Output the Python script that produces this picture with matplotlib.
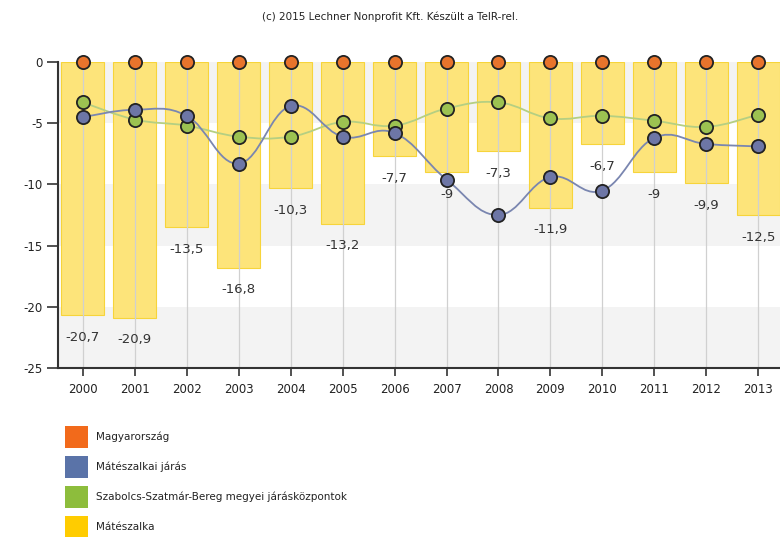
import matplotlib.pyplot as plt
from matplotlib.path import Path
from matplotlib.patches import PathPatch, Rectangle

years = [2000, 2001, 2002, 2003, 2004, 2005, 2006, 2007, 2008, 2009, 2010, 2011, 2012, 2013]
magyarorszag = [0, 0, 0, 0, 0, 0, 0, 0, 0, 0, 0, 0, 0, 0]
jaras = [-4.5, -3.9, -4.4, -8.3, -3.6, -6.1, -5.8, -9.6, -12.5, -9.4, -10.5, -6.2, -6.7, -6.9]
megyei = [-3.3, -4.7, -5.2, -6.1, -6.1, -4.9, -5.2, -3.8, -3.3, -4.6, -4.4, -4.8, -5.3, -4.3]
mateszalka = [-20.7, -20.9, -13.5, -16.8, -10.3, -13.2, -7.7, -9, -7.3, -11.9, -6.7, -9, -9.9, -12.5]

names = ["Magyarország", "Mátészalkai járás",
         "Szabolcs-Szatmár-Bereg megyei járásközpontok", "Mátészalka"]
legend_colors = ["#f26a1b", "#5a73a8", "#8dbd3c", "#ffcc00"]

plt.rcParams['font.family'] = ['DejaVu Sans']

fig = plt.figure(figsize=(7.8, 5.37), dpi=100)
ax = fig.add_axes([58 / 780, 1 - 368 / 537, 1 - 58 / 780, 306 / 537])

x = list(range(len(years)))
ax.set_xlim(-0.48, 13.42)
ax.set_ylim(-25, 0)

# alternating background bands
for i, lo in enumerate(range(0, -25, -5)):
    if i % 2 == 0:
        ax.axhspan(lo - 5, lo, color="#f3f3f3", zorder=0, lw=0)

# bars
ax.bar(x, mateszalka, width=0.83, color="#fde47a", edgecolor="#f7d43a",
       linewidth=0.8, zorder=1)

# vertical grid
for xi in x:
    ax.axvline(xi, color="#d0d0d0", lw=0.9, zorder=2)

# bar value labels
for xi, v in zip(x, mateszalka):
    lab = ("%g" % v).replace(".", ",")
    ax.annotate(lab, (xi, v), xytext=(0, -22), textcoords="offset pixels",
                ha="center", va="center", fontsize=9.5, color="#333333", zorder=5)


def smooth(xs, ys, t=0.2):
    verts = [(xs[0], ys[0])]
    codes = [Path.MOVETO]
    n = len(xs)
    for i in range(n - 1):
        x0, y0 = (xs[i - 1], ys[i - 1]) if i > 0 else (xs[i], ys[i])
        x1, y1 = xs[i], ys[i]
        x2, y2 = xs[i + 1], ys[i + 1]
        x3, y3 = (xs[i + 2], ys[i + 2]) if i + 2 < n else (x2, y2)
        c1 = (x1 + (x2 - x0) * t, y1 + (y2 - y0) * t)
        c2 = (x2 - (x3 - x1) * t, y2 - (y3 - y1) * t)
        verts += [c1, c2, (x2, y2)]
        codes += [Path.CURVE4] * 3
    return Path(verts, codes)


ax.add_patch(PathPatch(smooth(x, megyei), fill=False, edgecolor="#b5cf82", lw=1.3, zorder=3))
ax.add_patch(PathPatch(smooth(x, jaras), fill=False, edgecolor="#7a86b0", lw=1.3, zorder=3))

ax.plot(x, megyei, "o", ms=9.5, mfc="#9cc251", mec="#222222", mew=1.3, zorder=4, clip_on=False)
ax.plot(x, jaras, "o", ms=9.5, mfc="#6d76a6", mec="#222222", mew=1.3, zorder=4, clip_on=False)
ax.plot(x, magyarorszag, "o", ms=9.5, mfc="#e8742c", mec="#222222", mew=1.3, zorder=6, clip_on=False)

ax.set_yticks([0, -5, -10, -15, -20, -25])
ax.set_yticklabels(["0", "-5", "-10", "-15", "-20", "-25"])
ax.set_xticks(x)
ax.set_xticklabels([str(y) for y in years])
ax.tick_params(axis="y", length=8, width=1.2, color="#333333", labelsize=8.5,
               labelcolor="#222222", pad=3)
ax.tick_params(axis="x", length=6, width=1.2, color="#333333", labelsize=8.5,
               labelcolor="#222222", pad=5)

for s in ["top", "right"]:
    ax.spines[s].set_visible(False)
for s in ["left", "bottom"]:
    ax.spines[s].set_color("#333333")
    ax.spines[s].set_linewidth(1.5)

fig.text(0.5, 1 - 17 / 537, "(c) 2015 Lechner Nonprofit Kft. Készült a TeIR-rel.",
         ha="center", va="center", fontsize=7.5, color="#222222")

# legend
for i, (name, c) in enumerate(zip(names, legend_colors)):
    yc = 437 + 30 * i
    fig.add_artist(Rectangle((65 / 780, 1 - (yc + 11) / 537), 23 / 780, 22 / 537,
                             transform=fig.transFigure, color=c, lw=0))
    fig.text(96 / 780, 1 - yc / 537, name, ha="left", va="center",
             fontsize=7.5, color="#222222")

fig.savefig("out.png", dpi=100)
